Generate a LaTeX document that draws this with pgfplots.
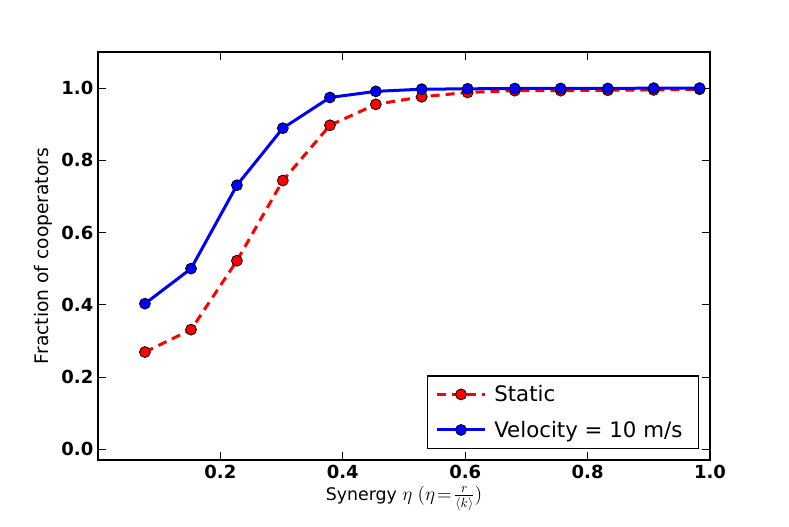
\documentclass[border=0pt]{standalone}
\usepackage{pgfplots}
\pgfplotsset{compat=1.18}
\usepackage{fontspec}
\setmainfont{DejaVu Sans}
\begin{document}
\begin{tikzpicture}
\begin{axis}[
  name=ax,
  scale only axis,
  width=459pt, height=306pt,
  xmin=0, xmax=1.0, ymin=-0.03, ymax=1.1,
  xtick={0.2,0.4,0.6,0.8,1.0},
  ytick={0,0.2,0.4,0.6,0.8,1.0},
  tick align=inside,
  major tick length=6pt,
  xtick pos=both, ytick pos=both,
  /pgf/number format/assume math mode=true,
  xticklabel style={font=\fontsize{13.5}{15}\selectfont\bfseries,/pgf/number format/.cd,fixed,fixed zerofill,precision=1},
  yticklabel style={font=\fontsize{13.5}{15}\selectfont\bfseries,/pgf/number format/.cd,fixed,fixed zerofill,precision=1},
  scaled ticks=false,
  axis line style={line width=0.9pt},
  every tick/.style={black,line width=0.6pt},
  xlabel={Synergy {\fontsize{14.5}{16}\selectfont$\eta\;(\eta\!=\!\frac{r}{\langle k\rangle})$}},
  ylabel={Fraction of cooperators},
  xlabel style={font=\fontsize{13}{15}\selectfont, yshift=1pt},
  ylabel style={font=\fontsize{14}{16}\selectfont, yshift=0pt},
  legend style={at={(1,0)}, anchor=south east, xshift=-8.25pt, yshift=8.25pt,
    draw=black, line width=0.9pt, font=\fontsize{16}{19}\selectfont,
    row sep=9pt, inner xsep=6pt, inner ysep=5pt,
    nodes={inner xsep=6pt}},
  legend cell align=left,
  legend image code/.code={
    \draw[#1] (0cm,0cm) -- (1.25cm,0cm);
    \draw[#1,solid] plot coordinates {(0.625cm,0cm)};
  },
]
\addplot[red, line width=2.25pt, dash pattern=on 6.75pt off 4.5pt,
  mark=*, mark size=4.1pt, mark options={solid, fill=red, draw=black, line width=0.6pt}]
  coordinates {
  (0.0767,0.269) (0.152,0.331) (0.227,0.522) (0.302,0.744) (0.379,0.897)
  (0.454,0.955) (0.529,0.976) (0.604,0.988) (0.681,0.993) (0.756,0.993)
  (0.833,0.994) (0.908,0.995) (0.983,0.997)};
\addlegendentry{Static}
\addplot[blue, line width=2.25pt,
  mark=*, mark size=4.1pt, mark options={solid, fill=blue, draw=black, line width=0.6pt}]
  coordinates {
  (0.0767,0.403) (0.152,0.500) (0.227,0.731) (0.302,0.889) (0.379,0.974)
  (0.454,0.991) (0.529,0.997) (0.604,0.998) (0.681,0.999) (0.756,0.999)
  (0.833,0.999) (0.908,1.000) (0.983,1.000)};
\addlegendentry{Velocity = 10 m/s}
\end{axis}
\path ([xshift=-73.5pt,yshift=-49.5pt]ax.south west) rectangle ([xshift=59.25pt,yshift=39pt]ax.north east);
\end{tikzpicture}
\end{document}
